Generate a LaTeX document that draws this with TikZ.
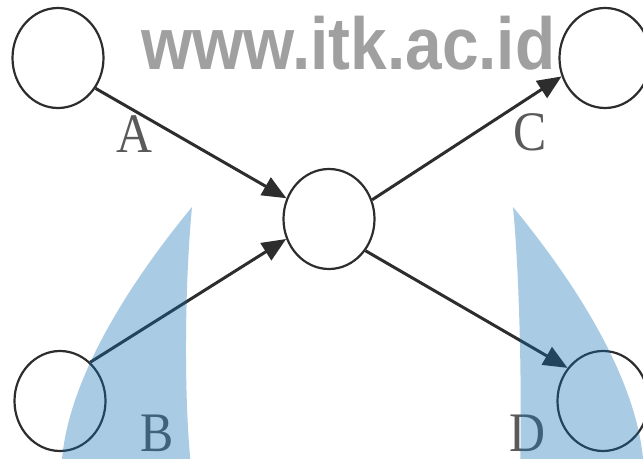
\documentclass[tikz,border=0pt]{standalone}
\usepackage{fontspec}
\usepackage{graphicx}
\setmainfont{Liberation Serif}
\newfontfamily\wmfont{Liberation Sans}
\usetikzlibrary{arrows.meta,shapes.geometric}
\definecolor{wmgray}{RGB}{160,160,160}
\definecolor{linegray}{RGB}{45,45,45}
\definecolor{labgray}{RGB}{90,90,90}
\definecolor{overlayblue}{RGB}{17,114,180}
\begin{document}
\begin{tikzpicture}[x=1bp,y=-1bp,
  event/.style={ellipse, draw=linegray, line width=2.2bp, minimum width=91bp, minimum height=100bp, inner sep=0pt},
  link/.style={draw=linegray, line width=3bp, -{Triangle[length=24bp,width=20bp]}},
  lab/.style={text=labgray, font=\fontsize{50}{50}\selectfont, inner sep=0pt, anchor=base},
  horn/.style={fill=overlayblue, fill opacity=0.36, draw=none}]
\useasboundingbox (0,0) rectangle (643,459);
\clip (0,0) rectangle (643,459);
\node[anchor=base west, inner sep=0pt, text=wmgray, font=\wmfont\bfseries\fontsize{66}{66}\selectfont] (wm) at (141,70) {\scalebox{1}[1.12]{www.itk.ac.id}};
\node[event] (tl) at (58,58) {};
\node[event] (tr) at (605,58) {};
\node[event] (ctr) at (329,219) {};
\node[event] (bl) at (60,401) {};
\node[event] (br) at (603,401) {};
\draw[link] (tl.-39) -- (ctr.154);
\draw[link] (bl.52) -- (ctr.205);
\draw[link] (ctr.24) -- (tr.203);
\draw[link] (ctr.-41) -- (br.137);
\node[lab] (la) at (134,153) {\scalebox{1}[1.12]{A}};
\node[lab] (lb) at (157,451) {\scalebox{1}[1.12]{B}};
\node[lab] (lc) at (530,151) {\scalebox{1}[1.12]{C}};
\node[lab] (ld) at (527,451) {\scalebox{1}[1.12]{D}};
\path[horn] (192,207) .. controls (140,270) and (70,370) .. (62,459) -- (60,475) -- (192,475) .. controls (183,400) and (185,280) .. (192,207) -- cycle;
\path[horn] (513,207) .. controls (565,270) and (635,370) .. (643,459) -- (650,475) -- (520,475) .. controls (522,400) and (520,280) .. (513,207) -- cycle;
\end{tikzpicture}
\end{document}
